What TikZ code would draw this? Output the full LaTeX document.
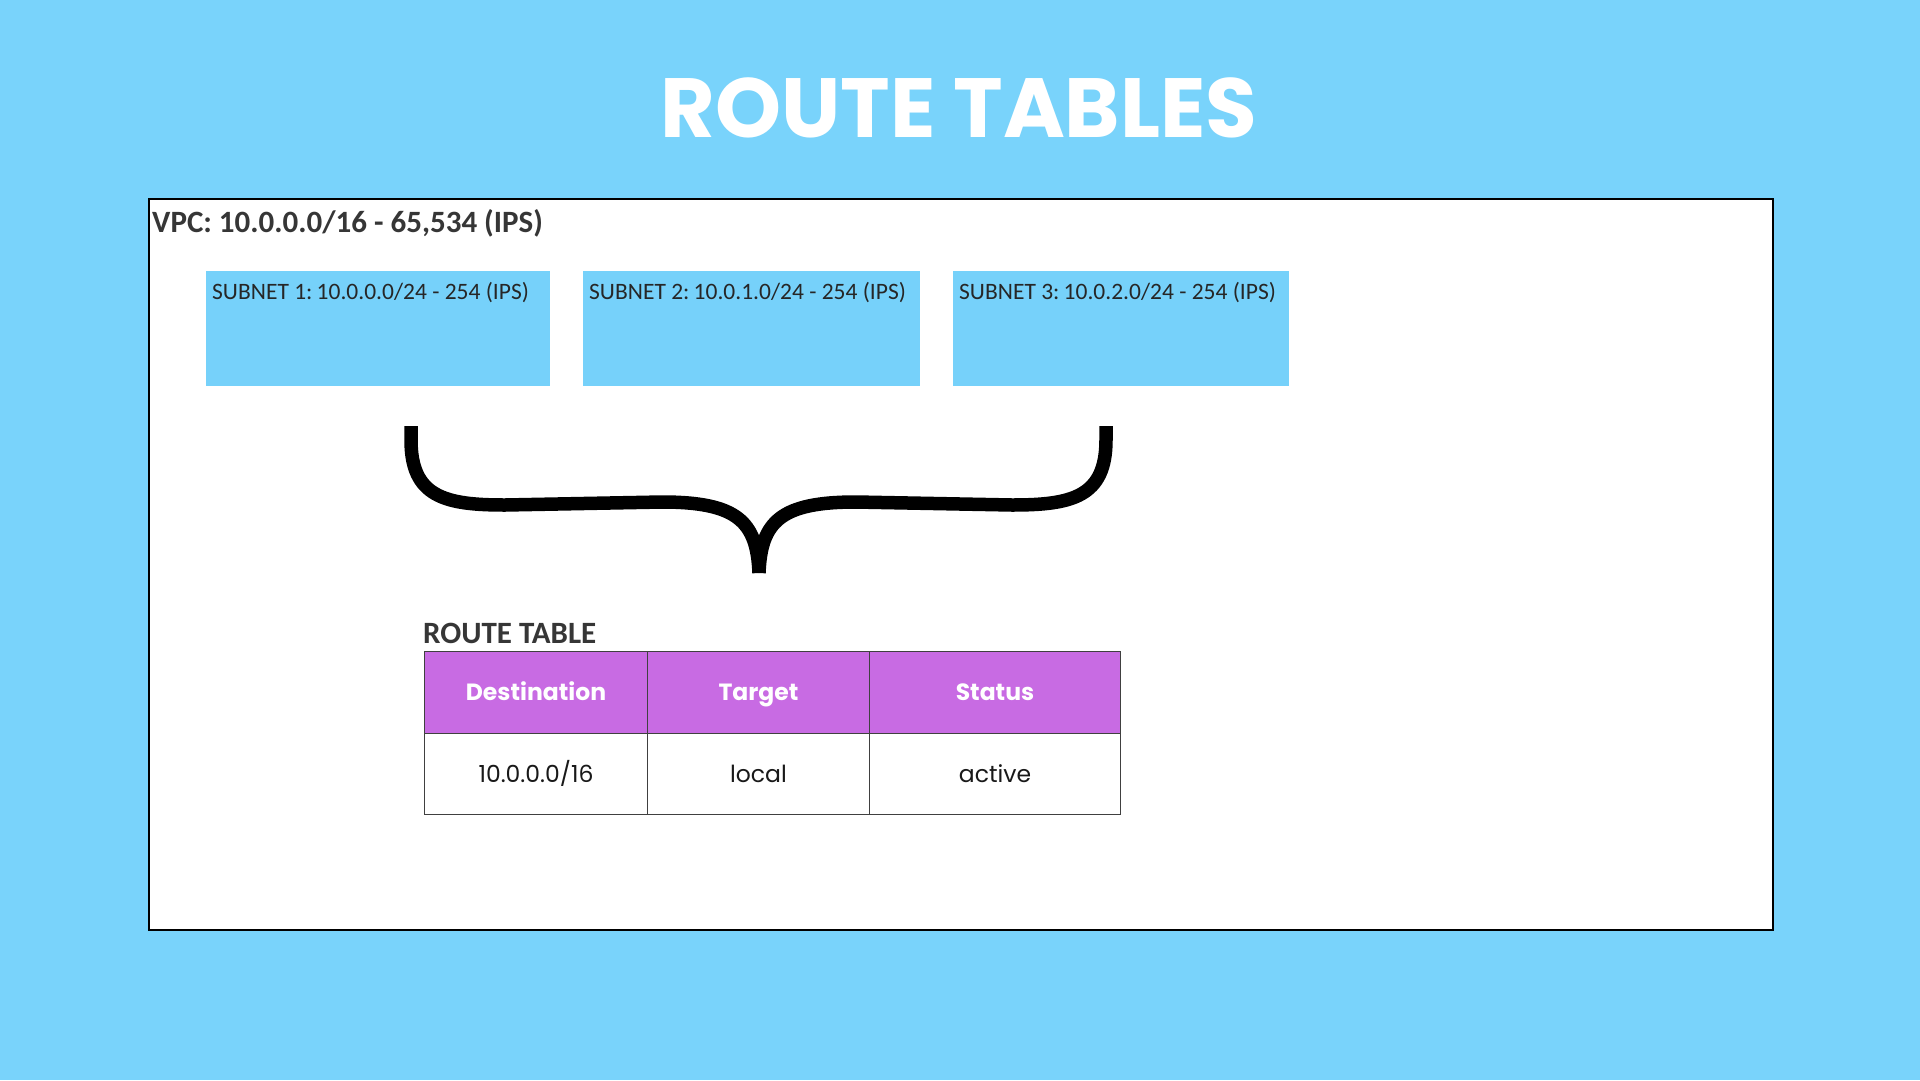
\documentclass[tikz,border=0pt]{standalone}
\usepackage{fontspec}
\setmainfont{Carlito}
\newfontfamily\popfont{Poppins}
\newfontfamily\carl{Carlito}
\definecolor{bgblue}{HTML}{79D3FB}
\definecolor{subblue}{HTML}{76D1FA}
\definecolor{hdrpurple}{HTML}{C86BE3}
\definecolor{darktxt}{HTML}{363636}
\tikzset{
  subnetbox/.style={fill=subblue, draw=none},
  subnetlabel/.style={anchor=base west, inner sep=0pt, font=\carl\fontsize{23.5}{26}\selectfont, text=black!85},
  hdrcell/.style={fill=hdrpurple, draw=black!75, line width=1pt},
  bodycell/.style={fill=white, draw=black!75, line width=1pt},
  hdrtext/.style={anchor=base, font=\popfont\bfseries\fontsize{23.5}{26}\selectfont, text=white, inner sep=0pt},
  bodytext/.style={anchor=base, font=\popfont\fontsize{23.5}{26}\selectfont, text=black!90, inner sep=0pt},
  bracepath/.style={line width=13.5pt, line cap=butt, line join=round, black}
}
\begin{document}
\begin{tikzpicture}[x=1pt,y=-1pt]
\useasboundingbox (0,0) rectangle (1920,1080);
\fill[bgblue] (0,0) rectangle (1920,1080);
% title
\node[anchor=base, inner sep=0pt, text=white, font=\popfont\bfseries\fontsize{84}{90}\selectfont] (title) at (959,137) {ROUTE TABLES};
% VPC box
\node[draw=black, fill=white, line width=1.5pt, minimum width=1624pt, minimum height=731pt, anchor=north west, inner sep=0pt] (vpc) at (148,198) {};
\node[anchor=base west, inner sep=0pt, text=darktxt, font=\carl\bfseries\fontsize{31}{34}\selectfont] (vpclabel) at (152,232) {VPC: 10.0.0.0/16 - 65,534 (IPS)};
% subnets
\node[subnetbox, anchor=north west, minimum width=344pt, minimum height=115pt, inner sep=0pt] (s1) at (206,271) {};
\node[subnetbox, anchor=north west, minimum width=337pt, minimum height=115pt, inner sep=0pt] (s2) at (583,271) {};
\node[subnetbox, anchor=north west, minimum width=336pt, minimum height=115pt, inner sep=0pt] (s3) at (953,271) {};
\node[subnetlabel] (s1l) at (212,299) {SUBNET 1:\hspace{-0.12em} 10.0.0.0/24 - 254 (IPS)};
\node[subnetlabel] (s2l) at (589,299) {SUBNET 2:\hspace{-0.12em} 10.0.1.0/24 - 254 (IPS)};
\node[subnetlabel] (s3l) at (959,299) {SUBNET 3:\hspace{-0.12em} 10.0.2.0/24 - 254 (IPS)};
% brace
\coordinate (bl) at (411,426);
\coordinate (br) at (1106,426);
\coordinate (btip) at (759,573);
\draw[bracepath] (bl) -- (411,440) .. controls (411,497) and (445,505) .. (505,505)
  -- (662,502) .. controls (738,502) and (757,522) .. (btip);
\draw[bracepath] (br) -- (1106,440) .. controls (1106,497) and (1072,505) .. (1012,505)
  -- (856,502) .. controls (780,502) and (761,522) .. (btip);
% route table label
\node[anchor=base west, inner sep=0pt, text=darktxt, font=\carl\bfseries\fontsize{31}{34}\selectfont] (rtlabel) at (423,643) {ROUTE TABLE};
% table
\node[hdrcell, anchor=north west, minimum width=223pt, minimum height=82pt, inner sep=0pt] (h1) at (424,651) {};
\node[hdrcell, anchor=north west, minimum width=222pt, minimum height=82pt, inner sep=0pt] (h2) at (647,651) {};
\node[hdrcell, anchor=north west, minimum width=251pt, minimum height=82pt, inner sep=0pt] (h3) at (869,651) {};
\node[bodycell, anchor=north west, minimum width=223pt, minimum height=81pt, inner sep=0pt] (b1) at (424,733) {};
\node[bodycell, anchor=north west, minimum width=222pt, minimum height=81pt, inner sep=0pt] (b2) at (647,733) {};
\node[bodycell, anchor=north west, minimum width=251pt, minimum height=81pt, inner sep=0pt] (b3) at (869,733) {};
\node[hdrtext] (h1t) at ([yshift=-8pt]h1.center) {Destination};
\node[hdrtext] (h2t) at ([yshift=-8pt]h2.center) {Target};
\node[hdrtext] (h3t) at ([yshift=-8pt]h3.center) {Status};
\node[bodytext] (b1t) at ([yshift=-8pt]b1.center) {10.0.0.0/16};
\node[bodytext] (b2t) at ([yshift=-8pt]b2.center) {local};
\node[bodytext] (b3t) at ([yshift=-8pt]b3.center) {active};
\end{tikzpicture}
\end{document}
